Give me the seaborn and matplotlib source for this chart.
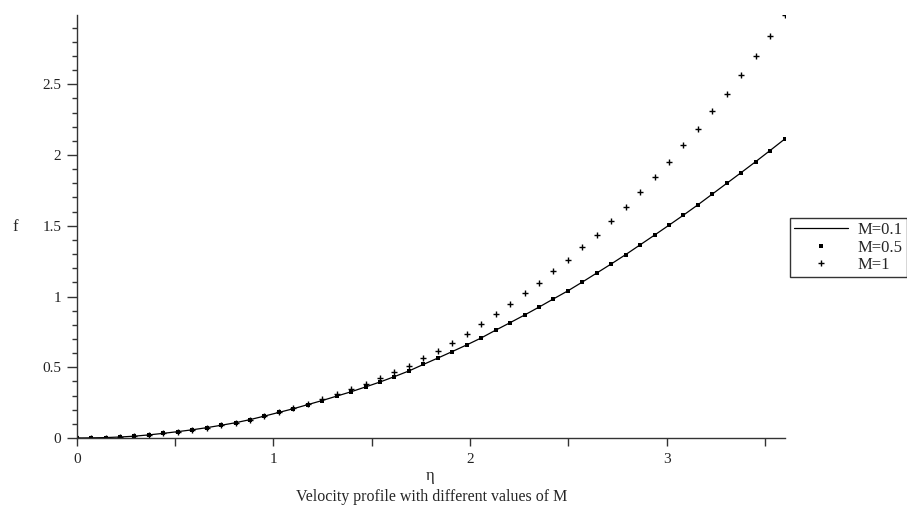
import numpy as np
import pandas as pd
import matplotlib
matplotlib.use("Agg")
import matplotlib.pyplot as plt
import seaborn as sns
from matplotlib.lines import Line2D
from matplotlib.ticker import MultipleLocator

# ---- data ----
eta = [0.0, 0.0735, 0.1469, 0.2204, 0.2939, 0.3673, 0.4408, 0.5143, 0.5878, 0.6612,
       0.7347, 0.8082, 0.8816, 0.9551, 1.0286, 1.1020, 1.1755, 1.2490, 1.3224, 1.3959,
       1.4694, 1.5429, 1.6163, 1.6898, 1.7633, 1.8367, 1.9102, 1.9837, 2.0571, 2.1306,
       2.2041, 2.2776, 2.3510, 2.4245, 2.4980, 2.5714, 2.6449, 2.7184, 2.7918, 2.8653,
       2.9388, 3.0122, 3.0857, 3.1592, 3.2327, 3.3061, 3.3796, 3.4531, 3.5265, 3.6]

f_M01 = [0.000, 0.001, 0.003, 0.007, 0.013, 0.022, 0.033, 0.045, 0.058, 0.073,
         0.090, 0.108, 0.130, 0.155, 0.181, 0.207, 0.236, 0.265, 0.296, 0.327,
         0.361, 0.396, 0.434, 0.474, 0.520, 0.565, 0.611, 0.658, 0.707, 0.762,
         0.815, 0.869, 0.925, 0.983, 1.040, 1.102, 1.166, 1.230, 1.296, 1.365,
         1.434, 1.504, 1.575, 1.648, 1.724, 1.800, 1.876, 1.953, 2.032, 2.112]

f_M05 = [0.000, 0.001, 0.003, 0.007, 0.013, 0.022, 0.033, 0.045, 0.058, 0.073,
         0.090, 0.108, 0.130, 0.155, 0.181, 0.207, 0.236, 0.265, 0.296, 0.327,
         0.361, 0.396, 0.434, 0.474, 0.520, 0.565, 0.611, 0.658, 0.707, 0.762,
         0.815, 0.869, 0.925, 0.983, 1.040, 1.102, 1.166, 1.230, 1.296, 1.365,
         1.434, 1.504, 1.575, 1.648, 1.724, 1.800, 1.876, 1.953, 2.032, 2.112]

f_M1 = [0.000, 0.001, 0.003, 0.007, 0.013, 0.022, 0.033, 0.045, 0.058, 0.073,
        0.090, 0.108, 0.130, 0.155, 0.181, 0.210, 0.241, 0.273, 0.308, 0.345,
        0.385, 0.424, 0.466, 0.512, 0.562, 0.614, 0.670, 0.738, 0.808, 0.880,
        0.945, 1.022, 1.098, 1.178, 1.258, 1.347, 1.436, 1.532, 1.630, 1.737,
        1.845, 1.952, 2.068, 2.185, 2.310, 2.435, 2.565, 2.700, 2.843, 2.987]

labels = ["M=0.1", "M=0.5", "M=1"]
x_ticks = [0, 1, 2, 3]
y_ticks = [0, 0.5, 1, 1.5, 2, 2.5]
y_tick_labels = ["0", "0.5", "1", "1.5", "2", "2.5"]

df = pd.DataFrame({"eta": eta, "M01": f_M01, "M05": f_M05, "M1": f_M1})

sns.set_style("white")
plt.rcParams["font.family"] = ["Liberation Serif", "DejaVu Serif"]

fig = plt.figure(figsize=(9.07, 5.12), dpi=100)
ax = fig.add_axes([76.7 / 907, 1 - 438 / 512, (784.5 - 76.7) / 907, (438 - 15) / 512])

sns.lineplot(data=df, x="eta", y="M01", ax=ax, color="black", linewidth=0.9,
             estimator=None, sort=False, legend=False)
ax.plot(df["eta"], df["M05"], linestyle="none", marker="s", markersize=2.2,
        color="black", markeredgewidth=0)
ax.plot(df["eta"], df["M1"], linestyle="none", marker="+", markersize=4.0,
        color="black", markeredgewidth=1.0)

ax.set_xlim(0, 3.6)
ax.set_ylim(0, 2.99)
ax.set_xticks(x_ticks)
ax.set_xticklabels([str(t) for t in x_ticks])
ax.xaxis.set_minor_locator(MultipleLocator(0.5))
ax.set_yticks(y_ticks)
ax.set_yticklabels(y_tick_labels)
ax.yaxis.set_minor_locator(MultipleLocator(0.1))

for s in ["top", "right"]:
    ax.spines[s].set_visible(False)
for s in ["left", "bottom"]:
    ax.spines[s].set_color("#333333")
    ax.spines[s].set_linewidth(1.0)

ax.tick_params(axis="both", which="both", direction="out", colors="#333333",
               labelcolor="#222222", labelsize=11, width=1.0,
               bottom=True, left=True, top=False, right=False)
ax.tick_params(axis="x", which="major", length=6, pad=5)
ax.tick_params(axis="x", which="minor", length=6)
ax.tick_params(axis="y", which="major", length=7, pad=4)
ax.tick_params(axis="y", which="minor", length=3.5)

ax.set_xlabel("")
ax.set_ylabel("")
fig.text(15 / 907, 1 - 227 / 512, "f", fontsize=12, ha="center", va="center")
fig.text(430 / 907, 1 - 476 / 512, "η", fontsize=12, ha="center", va="center")
fig.text(432 / 907, 1 - 497 / 512, "Velocity profile with different values of M",
         fontsize=11.5, ha="center", va="center")

handles = [
    Line2D([], [], color="black", linewidth=0.9),
    Line2D([], [], linestyle="none", marker="s", markersize=2.2, color="black", markeredgewidth=0),
    Line2D([], [], linestyle="none", marker="+", markersize=4.0, color="black", markeredgewidth=1.0),
]
leg = fig.legend(handles, labels, loc="upper left",
                 bbox_to_anchor=(790 / 907, 1 - 218 / 512), frameon=True,
                 fancybox=False, edgecolor="black", fontsize=12,
                 handlelength=3.2, handletextpad=0.6, borderpad=0.25,
                 labelspacing=0.08, borderaxespad=0)
leg.get_frame().set_linewidth(1.0)

fig.savefig("out.png", dpi=100)
